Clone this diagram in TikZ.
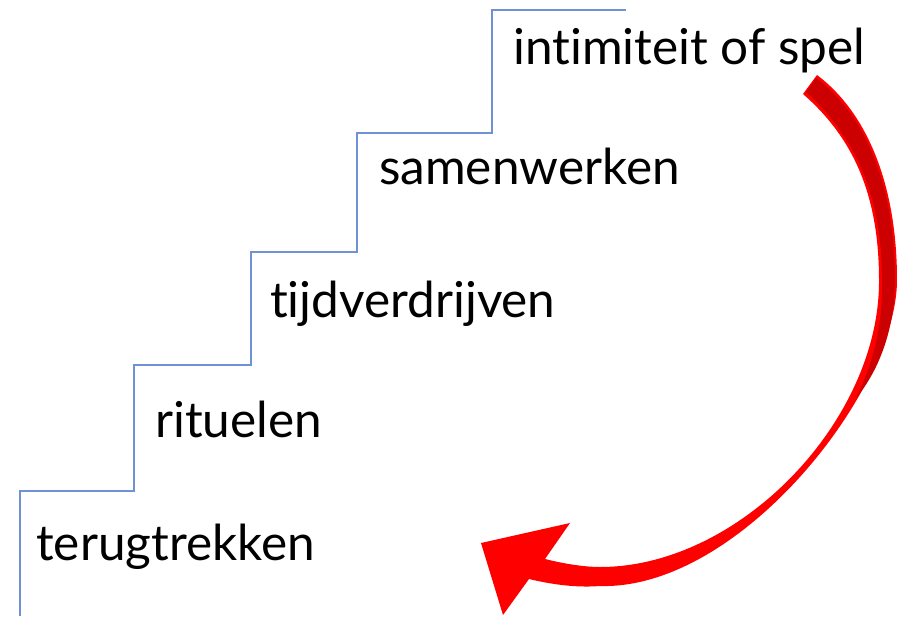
\documentclass[tikz,border=0pt]{standalone}
\usepackage{fontspec}
\setmainfont{Lato}[Ligatures={NoCommon,NoContextual}]
\definecolor{stairblue}{RGB}{112,146,212}
\definecolor{arrowred}{RGB}{255,0,0}
\definecolor{arrowdark}{RGB}{204,0,0}

\begin{document}
\begin{tikzpicture}[x=1pt,y=-1pt,
  stair/.style={draw=stairblue, line width=1.3pt, line join=miter},
  steplabel/.style={anchor=base west, inner sep=0pt, text=black,
                    font=\fontsize{49.5}{58}\selectfont},
]
\useasboundingbox (0,0) rectangle (897,616);

% staircase outline
\draw[stair] (20,616) -- (20,491) -- (134,491) -- (134,365) -- (251,365)
  -- (251,252) -- (357,252) -- (357,133) -- (492,133) -- (492,10) -- (626,10);

% step labels
\node[steplabel] (withdraw) at (36,560) {terugtrekken};
\node[steplabel] (rituals)  at (155,437) {rituelen};
\node[steplabel] (pastime)  at (270,317) {tijdverdrijven};
\node[steplabel] (cooperate) at (379,184) {samenwerken};
\node[steplabel] (intimacy) at (513,64) {intimiteit of spel};

% curved arrow: bright red ribbon with its head
\coordinate (tailin)  at (803,94);
\coordinate (tailout) at (817,75);
\coordinate (tip)     at (503,615);
\fill[arrowred] (tailin) -- (tailout)
  .. controls (870,115) and (897,190) .. (897,280)
  .. controls (897,390) and (740,590) .. (600,586)
  .. controls (575,588) and (550,584) .. (529,579)
  -- (tip) -- (481,543) -- (570,523) -- (545,559)
  .. controls (565,564) and (585,567) .. (600,567)
  .. controls (740,567) and (880,420) .. (879,280)
  .. controls (879,190) and (850,135) .. (tailin)
  -- cycle;

% darker back side of the ribbon, tapering out on the right
\fill[arrowdark] (806,92) -- (816,78)
  .. controls (868,117) and (895,190) .. (895,280)
  .. controls (895,330) and (878,372) .. (856,398)
  .. controls (872,365) and (883,330) .. (882,280)
  .. controls (882,190) and (852,134) .. (806,92)
  -- cycle;
\end{tikzpicture}
\end{document}
